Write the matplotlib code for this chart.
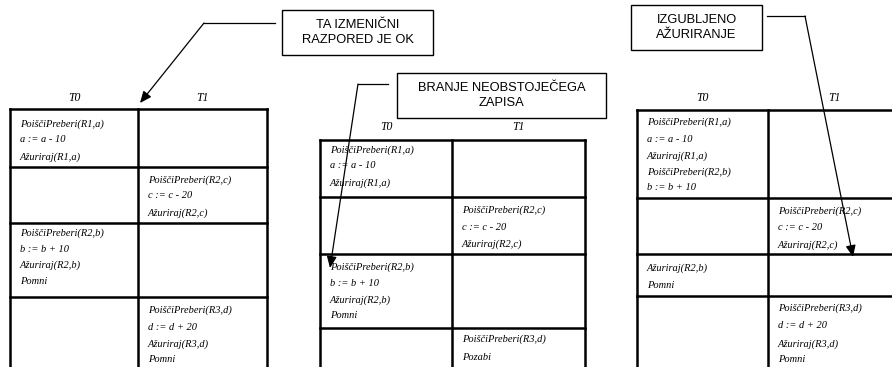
import matplotlib
matplotlib.use("Agg")
import matplotlib.pyplot as plt
from matplotlib.patches import Rectangle

W, H = 892, 367

# ---- content ----
headers = ["T0", "T1"]

t1_cells = [
    ["PoiščiPreberi(R1,a)", "a := a - 10", "Ažuriraj(R1,a)"],
    ["PoiščiPreberi(R2,c)", "c := c - 20", "Ažuriraj(R2,c)"],
    ["PoiščiPreberi(R2,b)", "b := b + 10", "Ažuriraj(R2,b)", "Pomni"],
    ["PoiščiPreberi(R3,d)", "d := d + 20", "Ažuriraj(R3,d)", "Pomni"],
]
t2_cells = [
    ["PoiščiPreberi(R1,a)", "a := a - 10", "Ažuriraj(R1,a)"],
    ["PoiščiPreberi(R2,c)", "c := c - 20", "Ažuriraj(R2,c)"],
    ["PoiščiPreberi(R2,b)", "b := b + 10", "Ažuriraj(R2,b)", "Pomni"],
    ["PoiščiPreberi(R3,d)", "Pozabi"],
]
t3_cells = [
    ["PoiščiPreberi(R1,a)", "a := a - 10", "Ažuriraj(R1,a)", "PoiščiPreberi(R2,b)", "b := b + 10"],
    ["PoiščiPreberi(R2,c)", "c := c - 20", "Ažuriraj(R2,c)"],
    ["Ažuriraj(R2,b)", "Pomni"],
    ["PoiščiPreberi(R3,d)", "d := d + 20", "Ažuriraj(R3,d)", "Pomni"],
]
cell_columns = [0, 1, 0, 1]  # which transaction column each row's text sits in

box_labels = ["TA IZMENIČNI\nRAZPORED JE OK", "BRANJE NEOBSTOJEČEGA\nZAPISA", "IZGUBLJENO\nAŽURIRANJE"]

# ---- layout (pixel coordinates) ----
tables = [
    dict(cells=t1_cells, x=[10, 138, 267], rows=[109, 167, 223, 297, 380],
         hy=98, line_y=[[124, 140, 157], [180, 196, 213], [233, 249, 265, 281], [310, 327, 344, 360]]),
    dict(cells=t2_cells, x=[320, 452, 585], rows=[140, 197, 254, 328, 380],
         hy=127, line_y=[[150, 166, 183], [210, 227, 244], [267, 283, 300, 316], [339, 357]]),
    dict(cells=t3_cells, x=[637, 768, 900], rows=[110, 198, 254, 296, 380],
         hy=98, line_y=[[122, 139, 156, 172, 188], [211, 228, 245], [268, 285], [308, 326, 344, 360]]),
]

boxes = [(282, 10, 433, 55), (397, 73, 606, 118), (631, 5, 762, 50)]
# callout arrows: polyline then arrow tip
callouts = [
    [(275, 23), (204, 23), (140, 103)],
    [(388, 84), (358, 84), (330, 268)],
    [(767, 16), (805, 16), (853, 257)],
]

fig = plt.figure(figsize=(W / 100, H / 100), dpi=100)
ax = fig.add_axes([0, 0, 1, 1])
ax.set_xlim(0, W)
ax.set_ylim(H, 0)
ax.axis("off")

serif = ["Liberation Serif", "DejaVu Serif"]
sans = ["Liberation Sans", "DejaVu Sans"]

for t in tables:
    x0, xm, x1 = t["x"]
    # headers
    for hx, lab in zip([(x0 + xm) / 2, (xm + x1) / 2], headers):
        ax.text(hx, t["hy"], lab, fontsize=8.5, style="italic", family=serif,
                ha="center", va="center")
    # grid
    lw = 1.8
    ax.plot([x0, x1], [t["rows"][0], t["rows"][0]], color="black", lw=lw, solid_capstyle="projecting")
    for ry in t["rows"][1:-1]:
        ax.plot([x0, x1], [ry, ry], color="black", lw=lw, solid_capstyle="projecting")
    for vx in (x0, xm, x1):
        ax.plot([vx, vx], [t["rows"][0], H + 5], color="black", lw=lw, solid_capstyle="projecting")
    # texts
    for ri, (lines, ys) in enumerate(zip(t["cells"], t["line_y"])):
        col = cell_columns[ri]
        tx = (x0 if col == 0 else xm) + 10
        for s, y in zip(lines, ys):
            ax.text(tx, y, s, fontsize=7.5, style="italic", family=serif,
                    ha="left", va="center")

for (bx0, by0, bx1, by1), lab in zip(boxes, box_labels):
    ax.add_patch(Rectangle((bx0, by0), bx1 - bx0, by1 - by0, fill=False,
                           edgecolor="black", lw=1.0))
    ax.text((bx0 + bx1) / 2, (by0 + by1) / 2, lab, fontsize=9.3, family=sans,
            ha="center", va="center", linespacing=1.25)

for pts in callouts:
    xs = [p[0] for p in pts[:-1]]
    ys = [p[1] for p in pts[:-1]]
    ax.plot(xs, ys, color="black", lw=0.9)
    ax.annotate("", xy=pts[-1], xytext=pts[-2],
                arrowprops=dict(arrowstyle="-|>,head_length=0.7,head_width=0.3",
                                color="black", lw=0.9, shrinkA=0, shrinkB=0))

fig.savefig("out.png", dpi=100)
